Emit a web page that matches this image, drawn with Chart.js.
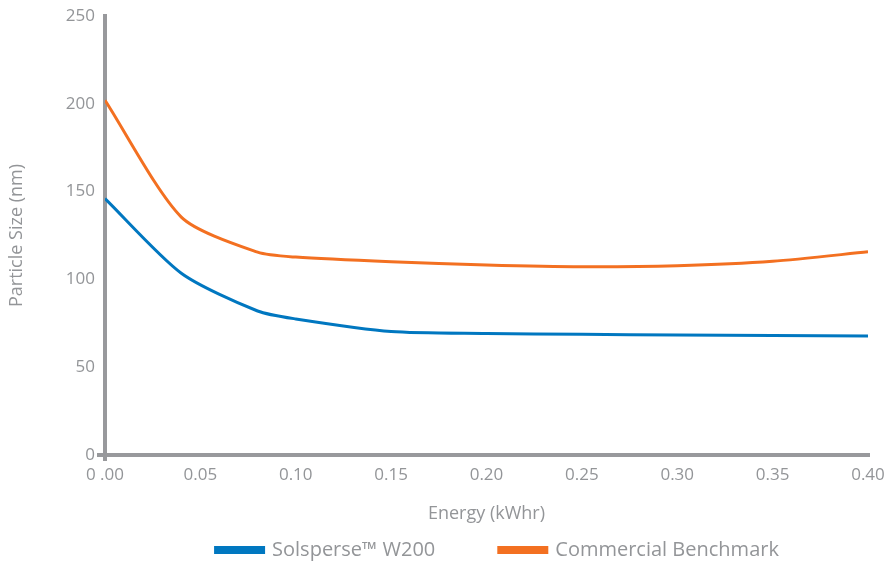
<!DOCTYPE html>
<html>
<head>
<meta charset="utf-8">
<script src="https://cdn.jsdelivr.net/npm/chart.js@4"></script>
<style>
  html, body { margin: 0; padding: 0; background: #fff; }
  #wrap { width: 890px; height: 565px; }
</style>
</head>
<body>
<div id="wrap"><canvas id="particles" width="890" height="565"></canvas></div>
<script>
const energy = [0, 0.04, 0.08, 0.10, 0.15, 0.20, 0.25, 0.30, 0.35, 0.40];
const solsperse = [146, 103.5, 82, 77.5, 70.3, 69.2, 68.7, 68.3, 68, 67.7];
const benchmark = [202, 135.5, 115.5, 112.7, 110, 108.2, 107.2, 107.8, 110.3, 115.7];
const xTickLabels = ['0 .00', '0.05', '0.10', '0.15', '0.20', '0.25', '0.30', '0.35', '0.40'];
const yTicks = [0, 50, 100, 150, 200, 250];

const gray = '#98999c';
const textGray = '#939598';
const font = "'Open Sans', sans-serif";

// legend drawn under the axis title, centred on the plot area
const bottomLegend = {
  id: 'bottomLegend',
  afterDraw(chart) {
    const ctx = chart.ctx;
    const area = chart.chartArea;
    const y = area.bottom + 95;
    const gap = 62;
    ctx.save();
    ctx.font = '20px ' + font;
    const items = chart.data.datasets.map(ds => ({
      label: ds.label,
      color: ds.borderColor,
      w: 51 + 7 + ctx.measureText(ds.label).width
    }));
    const total = items.reduce((s, it) => s + it.w, 0) + gap * (items.length - 1);
    let x = (area.left + area.right) / 2 + 10 - total / 2;
    ctx.textBaseline = 'middle';
    items.forEach(it => {
      ctx.fillStyle = it.color;
      ctx.fillRect(x, y - 4, 51, 8);
      ctx.fillStyle = textGray;
      ctx.fillText(it.label, x + 58, y);
      x += it.w + gap;
    });
    ctx.restore();
  }
};

new Chart(
  document.getElementById('particles'),
  {
    type: 'line',
    plugins: [bottomLegend],
    options: {
      responsive: false,
      animation: false,
      layout: { padding: { top: 16, right: 22, left: 0, bottom: 40 } },
      plugins: {
        legend: { display: false },
        tooltip: { enabled: false }
      },
      scales: {
        x: {
          type: 'linear',
          min: 0,
          max: 0.4,
          afterFit: s => { s.height = 70; },
          ticks: {
            stepSize: 0.05,
            color: textGray,
            padding: 4,
            font: { family: font, size: 17 },
            callback: (v, i) => xTickLabels[i]
          },
          grid: {
            drawOnChartArea: false,
            tickLength: 6,
            lineWidth: 4,
            color: ctx => ctx.tick && ctx.tick.value === 0 ? gray : 'rgba(0,0,0,0)'
          },
          border: { color: gray, width: 4 },
          title: {
            display: true,
            text: 'Energy (kWhr)',
            color: textGray,
            font: { family: font, size: 18 },
            padding: { top: 0, bottom: 0 }
          }
        },
        y: {
          min: 0,
          max: 250,
          afterFit: s => { s.width = 105; },
          afterBuildTicks: s => { s.ticks = yTicks.map(v => ({ value: v })); },
          ticks: {
            color: textGray,
            padding: 2,
            font: { family: font, size: 17 }
          },
          grid: {
            drawOnChartArea: false,
            tickLength: 8,
            lineWidth: 4,
            color: ctx => ctx.tick && ctx.tick.value === 0 ? gray : 'rgba(0,0,0,0)'
          },
          border: { color: gray, width: 4 },
          title: {
            display: true,
            text: 'Particle Size (nm)',
            color: textGray,
            font: { family: font, size: 18 },
            padding: { top: 6, bottom: 0 }
          }
        }
      }
    },
    data: {
      datasets: [
        {
          label: 'Solsperse™ W200',
          data: energy.map((e, i) => ({ x: e, y: solsperse[i] })),
          borderColor: '#0077c0',
          borderWidth: 3,
          pointRadius: 0,
          tension: 0.25
        },
        {
          label: 'Commercial Benchmark',
          data: energy.map((e, i) => ({ x: e, y: benchmark[i] })),
          borderColor: '#f37021',
          borderWidth: 3,
          pointRadius: 0,
          tension: 0.25
        }
      ]
    }
  }
);
</script>
</body>
</html>
